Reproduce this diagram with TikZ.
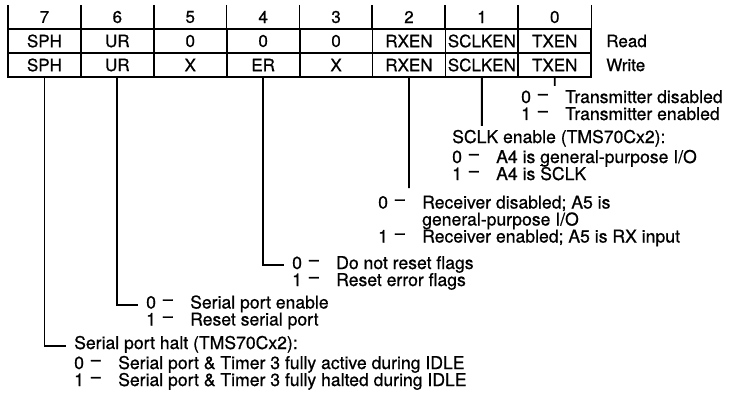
\documentclass[tikz,border=0pt]{standalone}
\usepackage{fontspec}
\setmainfont{TeX Gyre Heros}[FakeBold=0.7]
\newcommand\bv[1]{\makebox[44pt][l]{#1\hspace{7pt}\raisebox{3.5pt}{--}}}
\newcommand\ovS{\rlap{\raisebox{14pt}{\rule{8pt}{1.2pt}}}}
\begin{document}
\begin{tikzpicture}[x=1pt,y=-1pt,
  cell/.style={draw, line width=1.8pt, minimum width=72.9pt, minimum height=24pt, inner sep=0pt, font=\fontsize{17}{17}\selectfont},
  hdr/.style={minimum width=72.9pt, minimum height=24pt, inner sep=0pt, font=\fontsize{17}{17}\selectfont},
  lbl/.style={anchor=west, inner sep=0pt, font=\fontsize{17}{17}\selectfont},
  txt/.style={anchor=base west, inner sep=0pt, font=\fontsize{17.6}{17}\selectfont},
  conn/.style={line width=1.8pt},
]
\useasboundingbox (0,0) rectangle (741,393);
\foreach \b/\r/\w [count=\i from 0] in {7/SPH/SPH, 6/UR/UR, 5/0/X, 4/0/ER, 3/0/X, 2/RXEN/RXEN, 1/SCLKEN/SCLKEN, 0/TXEN/TXEN} {
  \node[hdr] (h\b) at (44.45+72.9*\i, 17) {\b};
  \node[cell] (r\b) at (44.45+72.9*\i, 41) {\r};
  \node[cell] (w\b) at (44.45+72.9*\i, 65) {\w};
  \draw[conn] (h\b.north west) -- (h\b.south west);
}
\draw[conn] (h0.north east) -- (h0.south east);
\node[lbl] (rd) at ([xshift=14pt]r0.east) {Read};
\node[lbl] (wr) at ([xshift=14pt]w0.east) {Write};

% bit 0
\node[txt] (tx0) at (521,103) {\bv{0}Transmitter disabled};
\node[txt] (tx1) at (521,120) {\bv{1}Transmitter enabled};
% bit 1
\node[txt] (sc)  at (452,143) {SCLK enable (TMS70Cx2):};
\node[txt] (sc0) at (452,163) {\bv{0}A4 is general-purpose I/O};
\node[txt] (sc1) at (452,180) {\bv{1}A4 is \ovS SCLK};
% bit 2
\node[txt] (rx0) at (378,208.5) {\bv{0}Receiver disabled; A5 is};
\node[txt] (rx0b) at (378,225.5) {\hspace*{44pt}general-purpose I/O};
\node[txt] (rx1) at (378,242.5) {\bv{1}Receiver enabled; A5 is RX input};
% bit 4
\node[txt] (er0) at (292,269) {\bv{0}Do not reset flags};
\node[txt] (er1) at (292,286) {\bv{1}Reset error flags};
% bit 6
\node[txt] (ur0) at (146,308.5) {\bv{0}Serial port enable};
\node[txt] (ur1) at (146,325.5) {\bv{1}Reset serial port};
% bit 7
\node[txt] (sp)  at (74,349) {Serial port halt (TMS70Cx2):};
\node[txt] (sp0) at (74,369) {\bv{0}Serial port \& Timer 3 fully active during IDLE};
\node[txt] (sp1) at (74,386) {\bv{1}Serial port \& Timer 3 fully halted during IDLE};

\coordinate (txe) at (554.75,86);
\coordinate (sce) at (481.85,126);
\coordinate (rxe) at (408.95,188);
\coordinate (erh) at (284,265);
\coordinate (urh) at (138,305);
\coordinate (sph) at (66,346);
\draw[conn] (w0.south) -- (txe);
\draw[conn] (w1.south) -- (sce);
\draw[conn] (w2.south) -- (rxe);
\draw[conn] (w4.south) |- (erh);
\draw[conn] (w6.south) |- (urh);
\draw[conn] (w7.south) |- (sph);
\end{tikzpicture}
\end{document}
